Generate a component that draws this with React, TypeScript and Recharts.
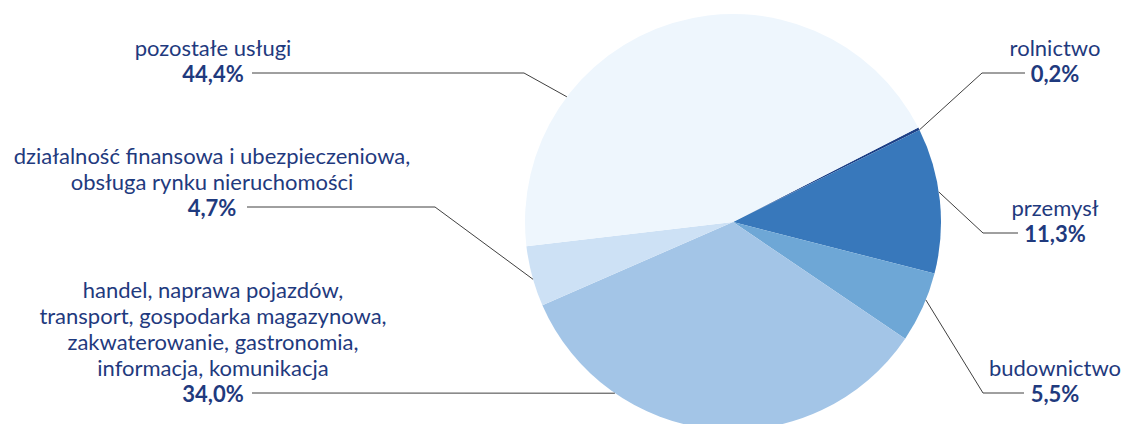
import { PieChart, Pie, Cell } from "recharts"

// sectors, clockwise from the top-right
const sectors = [
  ["rolnictwo"],
  ["przemysł"],
  ["budownictwo"],
  ["handel, naprawa pojazdów,", "transport, gospodarka magazynowa,", "zakwaterowanie, gastronomia,", "informacja, komunikacja"],
  ["działalność finansowa i ubezpieczeniowa,", "obsługa rynku nieruchomości"],
  ["pozostałe usługi"],
]
const shares = [0.2, 11.3, 5.5, 34.0, 4.7, 44.4]
const colors = ["#1c3f86", "#3878bb", "#6ea7d6", "#a3c5e7", "#cde1f5", "#eef6fd"]

// label placement: text centre, line start, elbow, angle where the leader meets the pie
const labelLayout = [
  { tx: 1055, ty: 73, lineX: 1025, elbowX: 982, anchorDeg: 26.3 },
  { tx: 1055, ty: 233, lineX: 1018, elbowX: 983, anchorDeg: 8.3 },
  { tx: 1055, ty: 393, lineX: 1024, elbowX: 983, anchorDeg: -22 },
  { tx: 213, ty: 393, lineX: 252, elbowX: null, anchorDeg: 235.4 },
  { tx: 212, ty: 207, lineX: 247, elbowX: 435, anchorDeg: 196 },
  { tx: 213, ty: 73, lineX: 252, elbowX: 524, anchorDeg: 143 },
]

const data = sectors.map((lines, i) => ({ name: lines.join(" "), lines, value: shares[i] }))

const TEXT = "#1f3a7e"
const FONT = "Lato, 'Noto Sans', sans-serif"
const LINE_H = 26
const FS = 22

function renderLabel(props: any) {
  const { cx, cy, outerRadius, index } = props
  const d = data[index]
  const l = labelLayout[index]
  const rad = (l.anchorDeg * Math.PI) / 180
  const ax = cx + outerRadius * Math.cos(rad)
  const ay = cy - outerRadius * Math.sin(rad)
  const pts =
    l.elbowX == null
      ? `${l.lineX},${l.ty} ${ax},${ay}`
      : `${l.lineX},${l.ty} ${l.elbowX},${l.ty} ${ax},${ay}`
  const n = d.lines.length
  return (
    <g key={`lbl-${index}`}>
      <polyline points={pts} fill="none" stroke="#404040" strokeWidth={1} />
      {d.lines.map((t, j) => (
        <text
          key={j}
          x={l.tx}
          y={l.ty - (n - j) * LINE_H}
          textAnchor="middle"
          dominantBaseline="central"
          fill={TEXT}
          fontFamily={FONT}
          fontSize={FS}
        >
          {t}
        </text>
      ))}
      <text
        x={l.tx}
        y={l.ty}
        textAnchor="middle"
        dominantBaseline="central"
        fill={TEXT}
        fontFamily={FONT}
        fontSize={FS}
        fontWeight="bold"
      >
        {d.value.toFixed(1).replace(".", ",") + "%"}
      </text>
    </g>
  )
}

export default function App() {
  return (
    <div style={{ position: "fixed", left: 0, top: 0, width: 1126, height: 424, background: "#fff" }}>
      <PieChart width={1126} height={424} margin={{ top: 0, right: 0, bottom: 0, left: 0 }}>
        <Pie
          data={data}
          dataKey="value"
          nameKey="name"
          cx={733}
          cy={222}
          outerRadius={208}
          startAngle={27}
          endAngle={-333}
          stroke="none"
          label={renderLabel}
          labelLine={false}
          isAnimationActive={false}
        >
          {data.map((_, i) => (
            <Cell key={i} fill={colors[i]} />
          ))}
        </Pie>
      </PieChart>
    </div>
  )
}
